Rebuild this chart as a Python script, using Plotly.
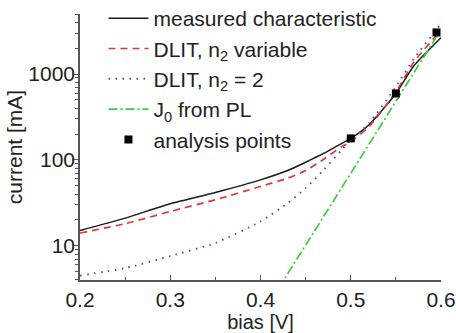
import plotly.graph_objects as go

# bias values [V]
bias = [0.20, 0.25, 0.30, 0.35, 0.40, 0.43, 0.45, 0.47, 0.49, 0.50, 0.52, 0.55, 0.57, 0.60]

# currents [mA]
measured = [15.1, 21.0, 30.9, 41.8, 58.6, 75.2, 94, 119, 156, 178, 255, 594, 1250, 2650]
dlit_n2_var = [14.1, 18.1, 25.1, 34.4, 49.1, 61.3, 75.2, 101.8, 142.8, 163, 243, 620, 1380, 3230]
dlit_n2_2 = [4.5, 5.5, 7.6, 10.8, 19.2, 31.4, 46.9, 76.5, 130.6, 170, 266, 710, 1510, 3850]

j0_bias = [0.42, 0.60]
j0_current = [3.2, 3300]

points_bias = [0.50, 0.55, 0.595]
points_current = [178, 594, 3050]

x_ticks = [0.2, 0.3, 0.4, 0.5, 0.6]
x_minor = [0.25, 0.35, 0.45, 0.55]
y_ticks = [10, 100, 1000]
y_minor = [4, 5, 6, 7, 8, 9, 20, 30, 40, 50, 60, 70, 80, 90,
           200, 300, 400, 500, 600, 700, 800, 900, 2000, 3000, 4000, 5000]

FONT = "Arial, Liberation Sans, sans-serif"
FS = 21
TXT = "#222222"

fig = go.Figure()
fig.add_trace(go.Scatter(x=bias, y=measured, mode="lines", name="measured characteristic",
                         line=dict(color="#1a1a1a", width=1.5, shape="spline", smoothing=0.6)))
fig.add_trace(go.Scatter(x=bias, y=dlit_n2_var, mode="lines", name="DLIT, n<sub>2</sub> variable",
                         line=dict(color="#e0353a", width=1.7, dash="7px,5px", shape="spline", smoothing=0.6)))
fig.add_trace(go.Scatter(x=bias, y=dlit_n2_2, mode="lines", name="DLIT, n<sub>2</sub> = 2",
                         line=dict(color="#4a4ac0", width=1.9, dash="1.5px,5.5px", shape="spline", smoothing=0.6)))
fig.add_trace(go.Scatter(x=j0_bias, y=j0_current, mode="lines", name="J<sub>0</sub> from PL",
                         line=dict(color="#3ccc3c", width=1.7, dash="9px,3px,2px,3px")))
fig.add_trace(go.Scatter(x=points_bias, y=points_current, mode="markers", name="analysis points",
                         marker=dict(color="black", symbol="square", size=8)))

fig.update_layout(
    width=456, height=333,
    margin=dict(l=80, r=15, t=14, b=53, autoexpand=False),
    paper_bgcolor="white", plot_bgcolor="white",
    font=dict(family=FONT, size=FS, color=TXT),
    showlegend=True,
    legend=dict(x=0.065, y=1.06, xanchor="left", yanchor="top",
                bgcolor="rgba(0,0,0,0)", font=dict(size=FS, family=FONT, color=TXT),
                itemwidth=40, tracegroupgap=0),
    xaxis=dict(range=[0.2, 0.6], tickvals=x_ticks, ticktext=["0.2", "0.3", "0.4", "0.5", "0.6"],
               ticks="inside", ticklen=5, tickwidth=1.2, tickcolor="#555",
               minor=dict(tickvals=x_minor, ticks="inside", ticklen=3, tickcolor="#555"),
               showline=True, linecolor="#555", linewidth=1.5, showgrid=False, zeroline=False,
               automargin=False,
               tickfont=dict(size=FS, family=FONT, color=TXT),
               title=dict(text="bias [V]", font=dict(size=20, family=FONT, color=TXT), standoff=0)),
    yaxis=dict(type="log", range=[0.602, 3.699], tickvals=y_ticks, ticktext=["10", "100", "1000"],
               ticks="outside", ticklen=5, tickwidth=1.2, tickcolor="#555",
               minor=dict(tickvals=y_minor, ticks="outside", ticklen=3, tickcolor="#555"),
               showline=True, linecolor="#555", linewidth=1.5, showgrid=False, zeroline=False,
               automargin=False, ticklabelstandoff=-6,
               tickfont=dict(size=FS, family=FONT, color=TXT),
               title=dict(text="current [mA]", font=dict(size=FS, family=FONT, color=TXT), standoff=0)),
)

fig.write_html("out.html", config={"displayModeBar": False},
               post_script="document.body.style.margin='0px';")
